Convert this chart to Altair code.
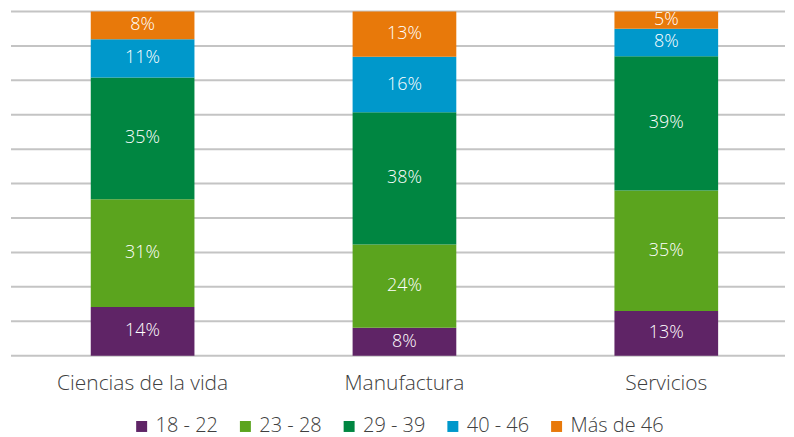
import altair as alt
import pandas as pd

categories = ["Ciencias de la vida", "Manufactura", "Servicios"]
groups = ["18 - 22", "23 - 28", "29 - 39", "40 - 46", "Más de 46"]
ciencias = [14, 31, 35, 11, 8]
manufactura = [8, 24, 38, 16, 13]
servicios = [13, 35, 39, 8, 5]
colors = ["#5F2466", "#5BA41E", "#008641", "#0098CB", "#E8790A"]
grid_values = [0, 0.1, 0.2, 0.3, 0.4, 0.5, 0.6, 0.7, 0.8, 0.9, 1.0]

rows = []
for cat, vals in zip(categories, [ciencias, manufactura, servicios]):
    for i, (g, v) in enumerate(zip(groups, vals)):
        rows.append({"cat": cat, "grupo": g, "valor": v, "orden": i, "label": f"{v}%"})
df = pd.DataFrame(rows)
grid_df = pd.DataFrame({"g": grid_values})

FONT = "Open Sans"

yscale = alt.Scale(domain=[0, 1], nice=False, zero=True)
xscale = alt.Scale(domain=categories, paddingInner=0.604, paddingOuter=0.28, align=0.544)

grid = alt.Chart(grid_df).mark_rule(color="#c4c4c4", strokeWidth=2).encode(
    y=alt.Y("g:Q", scale=yscale, axis=None),
)

base = alt.Chart(df).transform_stack(
    stack="valor", as_=["y0", "y1"], groupby=["cat"],
    sort=[alt.SortField("orden", order="ascending")], offset="normalize"
).transform_calculate(mid="(datum.y0 + datum.y1) / 2")

xenc = alt.X("cat:N", sort=categories, title=None, scale=xscale,
             axis=alt.Axis(labelAngle=0, labelFontSize=21, labelColor="#404040",
                           labelFont=FONT, labelFontWeight=300, labelPadding=17,
                           ticks=False, domain=False, grid=False))

bars = base.mark_bar().encode(
    x=xenc,
    y=alt.Y("y0:Q", scale=yscale, title=None, axis=None),
    y2="y1:Q",
    color=alt.Color("grupo:N", sort=groups,
                    scale=alt.Scale(domain=groups, range=colors),
                    legend=alt.Legend(orient="none", legendX=121, legendY=406,
                                      direction="horizontal", title=None,
                                      symbolType="square", symbolSize=121,
                                      symbolStrokeWidth=0,
                                      labelFontSize=20, labelFont=FONT, labelFontWeight=300,
                                      labelColor="#404040", labelOffset=4,
                                      columnPadding=17, padding=0)),
)

labels = base.mark_text(color="white", fontSize=18, font=FONT, fontWeight=300).encode(
    x=alt.X("cat:N", sort=categories, scale=xscale),
    y=alt.Y("mid:Q", scale=yscale),
    text="label:N",
)

chart = alt.layer(grid, bars, labels).properties(
    width=776, height=345,
    padding={"left": 2, "top": 2, "right": 0, "bottom": 0},
).configure_view(stroke=None)

chart.save("out.html", embed_options={"renderer": "svg", "actions": False})
